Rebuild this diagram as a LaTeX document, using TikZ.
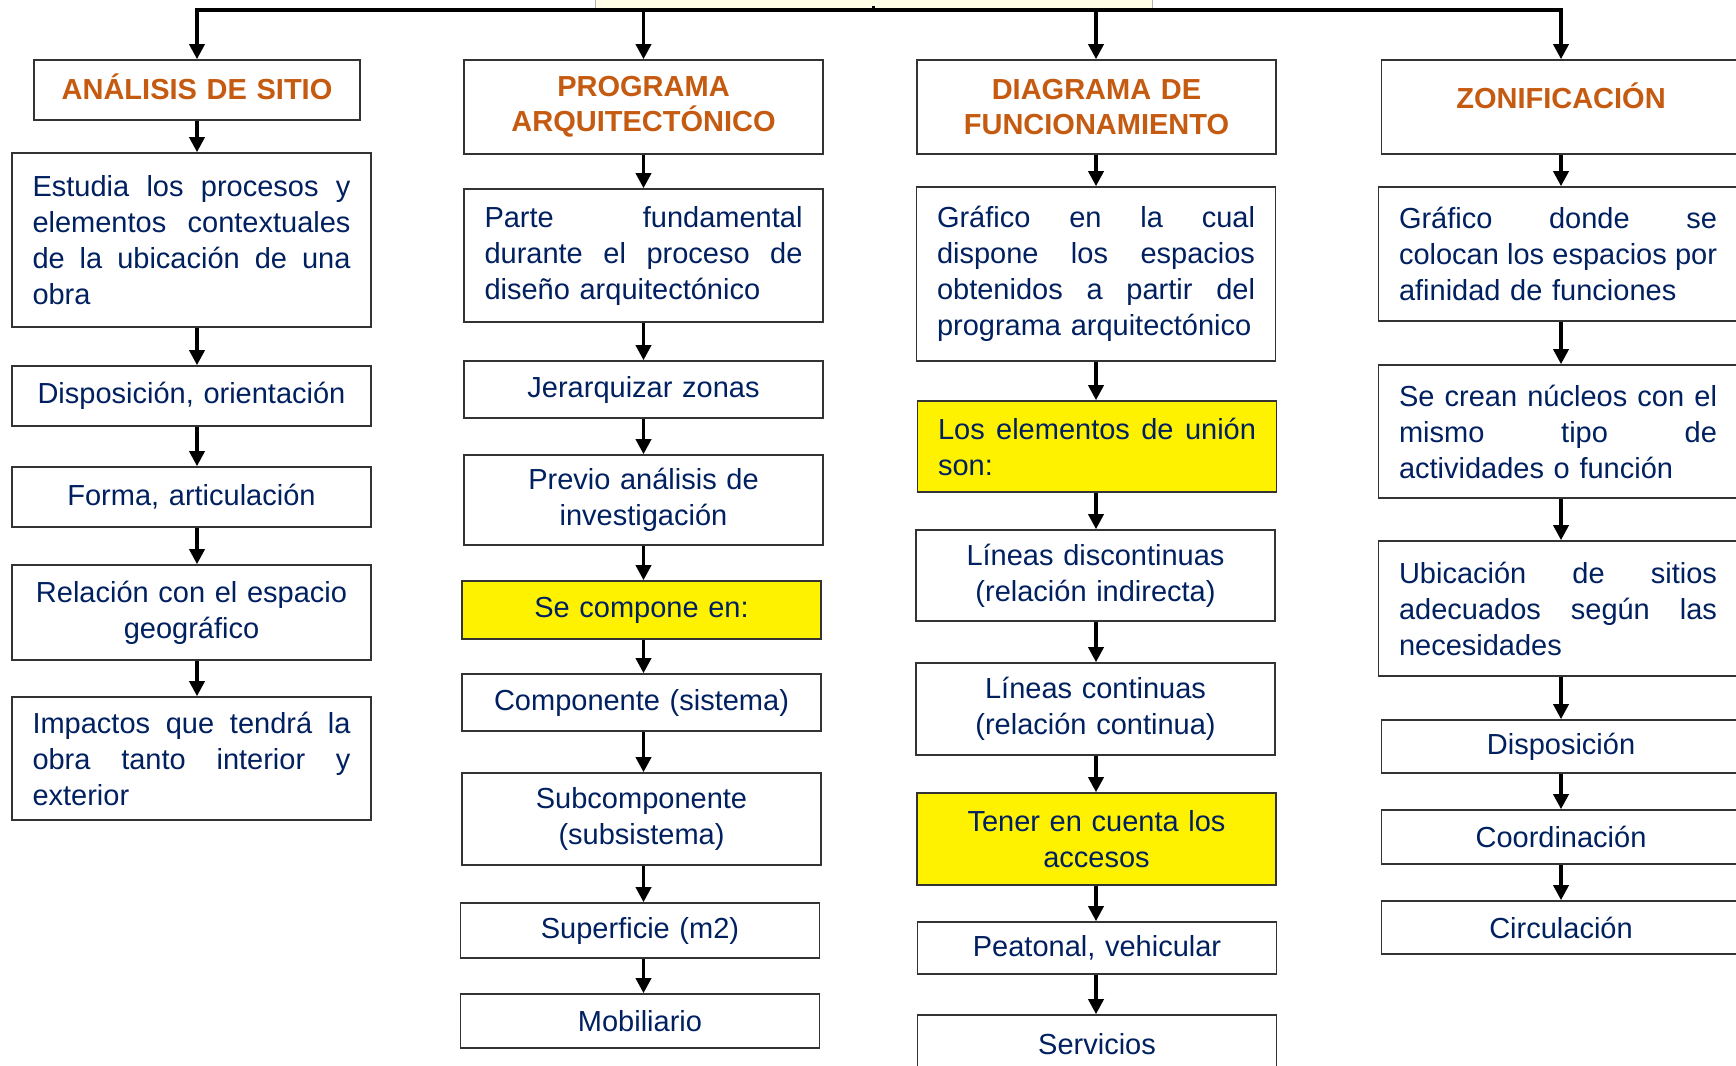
\documentclass[tikz,border=0pt]{standalone}
\usepackage{fontspec}
\setmainfont{Liberation Sans}
\usepackage{tikz}
\usetikzlibrary{positioning}
\usetikzlibrary{arrows.meta,shapes}
\usetikzlibrary{calc}
\definecolor{azultexto}{RGB}{0,32,96}
\definecolor{naranja}{RGB}{197,90,17}
\definecolor{amarilloclaro}{RGB}{255,253,230}
\newcommand{\jl}[1]{\leavevmode\hbox to 318pt{\spaceskip=0.278em plus 1fil\relax #1}}
\newcommand{\ul}[1]{\leavevmode\hbox to 318pt{#1\hfil}}
\tikzstyle{caja}=[rectangle,draw=black!80,line width=1.6pt,fill=white,text=azultexto,text width=318pt,align=center,inner xsep=20.5pt,inner ysep=0pt,font=\fontsize{29pt}{36pt}\selectfont]
\tikzstyle{titulo}=[caja,text=naranja,font=\fontsize{29pt}{35pt}\selectfont\bfseries]
\tikzstyle{raiz}=[rectangle,draw=black!30,fill=amarilloclaro,minimum width=557pt,minimum height=56pt]
\tikzstyle{tronco} = [draw,line width=3.5pt,line cap=rect]
\tikzstyle{edge} = [draw,line width=3.5pt,-{Triangle[width=15pt,length=15pt]}]

\begin{document}
\begin{tikzpicture}[x=1pt,y=-1pt]
 \useasboundingbox (0,0) rectangle (1736,1065);

 \node[raiz] (raiz) at (873.5,-20) {};
 \coordinate (k1) at (197,10);
 \coordinate (k2) at (643.5,10);
 \coordinate (k3) at (1096,10);
 \coordinate (k4) at (1561,10);

     \foreach \pos/\name/\ancho/\alto/\texto in {{(197,90)/a1/285/60/{ANÁLISIS DE SITIO\\[-28pt]\mbox{}}}, {(643.5,107)/b1/318/94/{PROGRAMA\\ARQUITECTÓNICO}}, {(1096.5,107)/c1/318/94/{DIAGRAMA DE\\FUNCIONAMIENTO}}, {(1561,107)/d1/318/94/{ZONIFICACIÓN\\[-12pt]\mbox{}}}}
        \node[titulo,text width=\ancho pt,minimum height=\alto pt] (\name) at \pos {\texto};

     \foreach \pos/\name/\alto/\relleno/\texto in {{(191.5,240)/a2/174/white/{\jl{Estudia los procesos y}\\\jl{elementos contextuales}\\\jl{de la ubicación de una}\\\ul{obra}}}, {(191.5,396)/a3/60/white/{Disposición, orientación}}, {(191.5,497)/a4/60/white/{Forma, articulación}}, {(191.5,612.5)/a5/95/white/{Relación con el espacio\\geográfico}}, {(191.5,758.5)/a6/123/white/{\jl{Impactos que tendrá la}\\\jl{obra tanto interior y}\\\ul{exterior}}},
        {(643.5,255.5)/b2/133/white/{\jl{Parte fundamental}\\\jl{durante el proceso de}\\\ul{diseño arquitectónico}}}, {(643.5,389.5)/b3/57/white/{Jerarquizar zonas}}, {(643.5,500)/b4/90/white/{Previo análisis de\\investigación}}, {(641.5,610)/b5/58/yellow/{Se compone en:}}, {(641.5,702.5)/b6/57/white/{Componente (sistema)}}, {(641.5,819)/b7/92/white/{Subcomponente\\(subsistema)}}, {(640,930.5)/b8/55/white/{Superficie (m2)}}, {(640,1021)/b9/54/white/{Mobiliario}},
        {(1096,274)/c2/174/white/{\jl{Gráfico en la cual}\\\jl{dispone los espacios}\\\jl{obtenidos a partir del}\\\ul{programa arquitectónico}}}, {(1097,446.5)/c3/91/yellow/{\jl{Los elementos de unión}\\\ul{son:}}}, {(1095.5,575.5)/c4/91/white/{Líneas discontinuas\\(relación indirecta)}}, {(1095.5,709)/c5/92/white/{Líneas continuas\\(relación continua)}}, {(1096.5,839)/c6/92/yellow/{Tener en cuenta los\\accesos}}, {(1097,948)/c7/52/white/{Peatonal, vehicular}}, {(1097,1044)/c8/58/white/{Servicios}},
        {(1558,254)/d2/134/white/{\jl{Gráfico donde se}\\\jl{colocan los espacios por}\\\ul{afinidad de funciones}}}, {(1558,431.5)/d3/133/white/{\jl{Se crean núcleos con el}\\\jl{mismo tipo de}\\\ul{actividades o función}}}, {(1558,608.5)/d4/135/white/{\jl{Ubicación de sitios}\\\jl{adecuados según las}\\\ul{necesidades}}}, {(1561,746.5)/d5/53/white/{Disposición}}, {(1561,837)/d6/54/white/{Coordinación}}, {(1561,927.5)/d7/53/white/{Circulación}}}
        \node[caja,fill=\relleno,minimum height=\alto pt] (\name) at \pos {\texto};

 \path[tronco] (raiz.south) -- (raiz.south |- k1);
 \path[tronco] (k1) -- (k4);

  \foreach \dest/\col in {a1/k1, b1/k2, c1/k3, d1/k4}
        \path[edge] (\col) -- (\dest.north -| \col);

  \foreach \source/\dest/\col in {a1/a2/k1, a2/a3/k1, a3/a4/k1, a4/a5/k1, a5/a6/k1, b1/b2/k2, b2/b3/k2, b3/b4/k2, b4/b5/k2, b5/b6/k2, b6/b7/k2, b7/b8/k2, b8/b9/k2, c1/c2/k3, c2/c3/k3, c3/c4/k3, c4/c5/k3, c5/c6/k3, c6/c7/k3, c7/c8/k3, d1/d2/k4, d2/d3/k4, d3/d4/k4, d4/d5/k4, d5/d6/k4, d6/d7/k4}
        \path[edge] (\source.south -| \col) -- (\dest.north -| \col);

\end{tikzpicture}
\end{document}
